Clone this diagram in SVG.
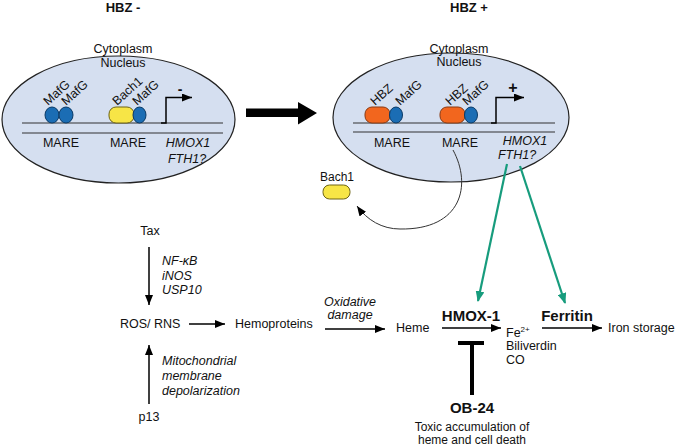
<svg xmlns="http://www.w3.org/2000/svg" width="675" height="446" viewBox="0 0 675 446">
<defs>
<style>
text{font-family:"Liberation Sans",Arial,sans-serif;font-size:12.5px;fill:#111}
.b{font-weight:bold}
.i{font-style:italic}
.s{font-size:12.5px}
.c{text-anchor:middle}
.cell{fill:#d5dff0;stroke:#222;stroke-width:1.2}
.dna{stroke:#333;stroke-width:1.2;fill:none}
.blue{fill:#1b6db4;stroke:#0b3a66;stroke-width:1}
.yel{fill:#f7e546;stroke:#6e6414;stroke-width:1}
.org{fill:#f2661e;stroke:#8a3a12;stroke-width:1}
.ln{stroke:#000;stroke-width:1.5;fill:none}
.gr{stroke:#179c7d;stroke-width:2.2;fill:none}
</style>
<marker id="ah" viewBox="0 0 10 8" refX="10" refY="4" markerWidth="10" markerHeight="8" markerUnits="userSpaceOnUse" orient="auto">
<path d="M0,0 L10,4 L0,8 Z" fill="#000"/>
</marker>
<marker id="ag" viewBox="0 0 10 8" refX="9" refY="4" markerWidth="11" markerHeight="9" markerUnits="userSpaceOnUse" orient="auto">
<path d="M0,0 L10,4 L0,8 Z" fill="#179c7d"/>
</marker>
</defs>

<text class="b c" x="123" y="12" style="font-size:13px">HBZ -</text>
<text class="b c" x="469" y="12" style="font-size:13px">HBZ +</text>

<g id="cell-left">
<ellipse class="cell" cx="118.5" cy="119.5" rx="116.5" ry="63.5"/>
<text class="c" x="123" y="53">Cytoplasm</text>
<text class="c" x="123" y="67">Nucleus</text>
<line class="dna" x1="22" y1="123" x2="223" y2="123"/>
<line class="dna" x1="22" y1="133" x2="223" y2="133"/>
<ellipse class="blue" cx="52" cy="115" rx="7" ry="8"/>
<ellipse class="blue" cx="66" cy="115" rx="7" ry="8"/>
<rect class="yel" x="109" y="107" width="25" height="16" rx="7"/>
<ellipse class="blue" cx="139.5" cy="115" rx="6.5" ry="8"/>
<text class="s" transform="translate(48,106) rotate(-42)">MafG</text>
<text class="s" transform="translate(66,106) rotate(-42)">MafG</text>
<text class="s" transform="translate(117,106) rotate(-42)">Bach1</text>
<text class="s" transform="translate(137,106) rotate(-42)">MafG</text>
<path class="ln" d="M161,123 H166 V97.5 H192" marker-end="url(#ah)"/>
<text class="b c" x="180" y="94" style="font-size:14px">-</text>
<text class="c" x="61" y="147">MARE</text>
<text class="c" x="128" y="147">MARE</text>
<text class="i c" x="188" y="147">HMOX1</text>
<text class="i c" x="187" y="163">FTH1?</text>
</g>

<g id="cell-right">
<ellipse class="cell" cx="451" cy="117.5" rx="118" ry="64.5"/>
<text class="c" x="459" y="53">Cytoplasm</text>
<text class="c" x="459" y="66">Nucleus</text>
<line class="dna" x1="353" y1="123" x2="555" y2="123"/>
<line class="dna" x1="353" y1="132" x2="555" y2="132"/>
<rect class="org" x="365" y="107" width="25" height="16" rx="7"/>
<ellipse class="blue" cx="396" cy="115" rx="6.5" ry="8"/>
<rect class="org" x="440" y="107" width="25" height="16" rx="7"/>
<ellipse class="blue" cx="471" cy="115" rx="6.5" ry="8"/>
<text class="s" transform="translate(375,106) rotate(-42)">HBZ</text>
<text class="s" transform="translate(400,106) rotate(-42)">MafG</text>
<text class="s" transform="translate(450,106) rotate(-42)">HBZ</text>
<text class="s" transform="translate(467,106) rotate(-42)">MafG</text>
<path class="ln" d="M491,123 H496 V97.5 H524" marker-end="url(#ah)"/>
<text class="b c" x="513" y="93" style="font-size:16px">+</text>
<text class="c" x="392" y="147">MARE</text>
<text class="c" x="460" y="147">MARE</text>
<text class="i c" x="525" y="145">HMOX1</text>
<text class="i c" x="517" y="159">FTH1?</text>
</g>

<g id="bach1-free">
<text class="c" x="337" y="181" style="font-size:12px">Bach1</text>
<rect class="yel" x="323" y="185" width="27" height="14" rx="6.5"/>
</g>

<g id="tax"><text class="c" x="150" y="235">Tax</text></g>
<g id="tax-labels">
<text class="i" x="162" y="265">NF-κB</text>
<text class="i" x="162" y="279.5">iNOS</text>
<text class="i" x="162" y="294">USP10</text>
</g>
<g id="ros"><text x="120" y="328">ROS/ RNS</text></g>
<g id="hemoproteins"><text x="235" y="328">Hemoproteins</text></g>
<g id="oxdam">
<text class="i c" x="350" y="306">Oxidative</text>
<text class="i c" x="350" y="319">damage</text>
</g>
<g id="heme"><text x="396" y="332">Heme</text></g>
<g id="hmox1"><text class="b c" x="471" y="321" style="font-size:15px">HMOX-1</text></g>
<g id="products">
<text x="506" y="337">Fe<tspan dy="-5" style="font-size:8px">2+</tspan></text>
<text x="506" y="350">Biliverdin</text>
<text x="506" y="364">CO</text>
</g>
<g id="ferritin"><text class="b c" x="567" y="321" style="font-size:15px">Ferritin</text></g>
<g id="iron"><text x="608" y="332">Iron storage</text></g>
<g id="ob24">
<text class="b c" x="472" y="413" style="font-size:15px">OB-24</text>
<text class="c" x="472" y="431" style="font-size:12px">Toxic accumulation of</text>
<text class="c" x="472" y="443.5" style="font-size:12px">heme and cell death</text>
</g>
<g id="p13">
<text class="c" x="149" y="421">p13</text>
<text class="i" x="162" y="365">Mitochondrial</text>
<text class="i" x="162" y="380">membrane</text>
<text class="i" x="162" y="395">depolarization</text>
</g>

<g id="connectors">
<path d="M246,108.5 H298 V102 L317,113 L298,124.5 V117 H246 Z" fill="#000"/>
<path d="M453,150 C472,185 462,230 400,229 C382,229 367,220 357,206" stroke="#333" stroke-width="1" fill="none" marker-end="url(#ah)"/>
<line class="gr" x1="507" y1="164" x2="478" y2="301" marker-end="url(#ag)"/>
<line class="gr" x1="520" y1="166" x2="565" y2="303" marker-end="url(#ag)"/>
<line class="ln" x1="149" y1="247" x2="149" y2="305" marker-end="url(#ah)"/>
<line class="ln" x1="149" y1="404" x2="149" y2="345" marker-end="url(#ah)"/>
<line class="ln" x1="189" y1="324" x2="225" y2="324" marker-end="url(#ah)"/>
<line class="ln" x1="325" y1="329" x2="385" y2="329" marker-end="url(#ah)"/>
<line class="ln" x1="442" y1="328" x2="501" y2="328" marker-end="url(#ah)"/>
<line class="ln" x1="542" y1="328" x2="602" y2="328" marker-end="url(#ah)"/>
<line x1="458" y1="343" x2="484" y2="343" stroke="#000" stroke-width="4"/>
<line x1="472" y1="343" x2="472" y2="395" stroke="#000" stroke-width="4"/>
</g>
</svg>
